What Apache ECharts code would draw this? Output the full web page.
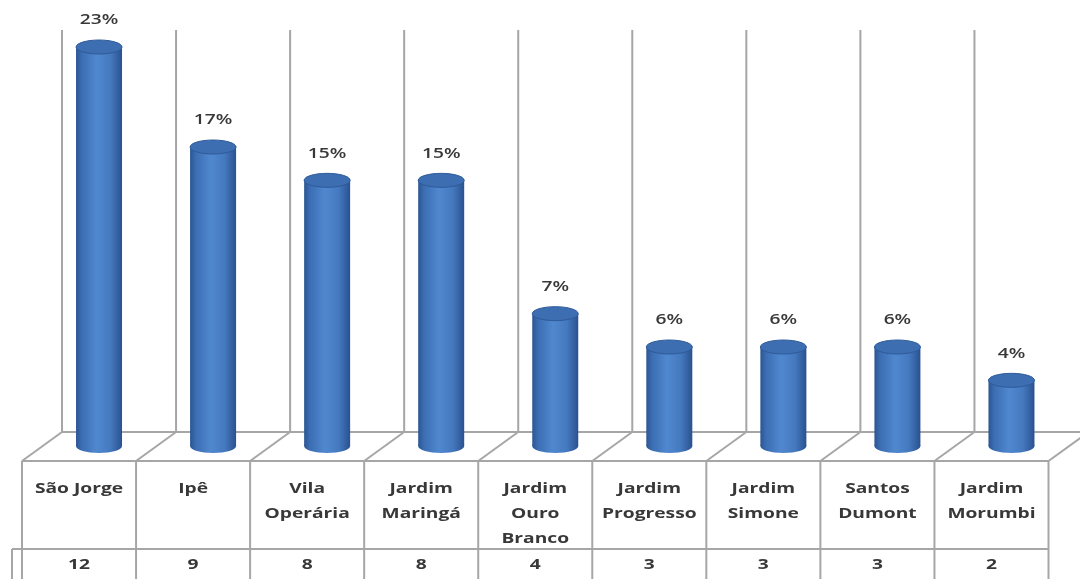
<!DOCTYPE html>
<html>
<head>
<meta charset="utf-8">
<script src="https://cdn.jsdelivr.net/npm/echarts@6/dist/echarts.min.js"></script>
<style>
html,body{margin:0;padding:0;background:#fff;}
#chart{width:1080px;height:579px;}
</style>
</head>
<body>
<div id="chart"></div>
<script>
// ---- data ----
const categories = ['São Jorge', 'Ipê', 'Vila\nOperária', 'Jardim\nMaringá', 'Jardim\nOuro\nBranco', 'Jardim\nProgresso', 'Jardim\nSimone', 'Santos\nDumont', 'Jardim\nMorumbi'];
const counts = [12, 9, 8, 8, 4, 3, 3, 3, 2];
const percents = [23, 17, 15, 15, 7, 6, 6, 6, 4];

// ---- style constants ----
const LINE = '#a6a6a6';
const TEXT = '#383838';
const FONT = 'Open Sans';
const STRETCH = 1.28;
const DEPTH_X = 20;   // perspective shift
const BACK_UP = 15;   // back floor above baseline
const FRONT_DOWN = 14; // front floor below baseline
const WALL_TOP = 30;
const ROW_SPLIT = 549;
const BOTTOM = 579;
const CYL_W = 46, CYL_RY = 7;

const chart = echarts.init(document.getElementById('chart'), null, {renderer: 'canvas'});

function label(text, x, y, opts) {
  return {type: 'text', x: x, y: y, scaleX: STRETCH, style: Object.assign({
    text: text, x: 0, y: 0, align: 'center', verticalAlign: 'middle',
    fontFamily: FONT, fontSize: 15, fill: TEXT
  }, opts || {})};
}

function frameItem(params, api) {
  const i = api.value(0);
  const p = api.coord([i, 0]);
  const band = api.size([1, 0])[0];
  const L = p[0] - band / 2, R = p[0] + band / 2;
  const yBack = p[1] - BACK_UP, yFront = p[1] + FRONT_DOWN;
  const ls = {stroke: LINE, lineWidth: 2};
  const line = (x1, y1, x2, y2) => ({type: 'line', shape: {x1, y1, x2, y2}, style: ls});
  const ch = [];
  ch.push(line(L + DEPTH_X, WALL_TOP, L + DEPTH_X, yBack));
  ch.push(line(L + DEPTH_X, yBack, R + DEPTH_X, yBack));
  ch.push(line(L + DEPTH_X, yBack, L - DEPTH_X, yFront));
  ch.push(line(L - DEPTH_X, yFront, R - DEPTH_X, yFront));
  ch.push(line(L - DEPTH_X, yFront, L - DEPTH_X, BOTTOM));
  ch.push(line(i === 0 ? L - DEPTH_X - 10 : L - DEPTH_X, ROW_SPLIT, R - DEPTH_X, ROW_SPLIT));
  if (i === 0) {
    ch.push(line(L - DEPTH_X - 10, ROW_SPLIT, L - DEPTH_X - 10, BOTTOM));
  }
  if (i === categories.length - 1) {
    ch.push(line(R - DEPTH_X, yFront, R - DEPTH_X, BOTTOM));
    ch.push(line(R - DEPTH_X, yFront, R + DEPTH_X, yBack));
  }
  ch.push(label(categories[i], p[0] - DEPTH_X, yFront + 15,
    {verticalAlign: 'top', lineHeight: 25, fontWeight: 'bold'}));
  ch.push(label(String(counts[i]), p[0] - DEPTH_X, (ROW_SPLIT + BOTTOM) / 2 + 1,
    {fontWeight: 'bold'}));
  return {type: 'group', children: ch};
}

function cylItem(params, api) {
  const i = api.value(0);
  const top = api.coord([i, api.value(1)]);
  const base = api.coord([i, 0]);
  const cx = top[0], rx = CYL_W / 2;
  const grad = new echarts.graphic.LinearGradient(0, 0, 1, 0, [
    {offset: 0, color: '#2b5592'},
    {offset: 0.12, color: '#3b6db2'},
    {offset: 0.45, color: '#5088cf'},
    {offset: 0.75, color: '#4579bf'},
    {offset: 1, color: '#2a5190'}
  ]);
  return {type: 'group', children: [
    {type: 'ellipse', shape: {cx, cy: base[1] - 1, rx, ry: CYL_RY}, style: {fill: grad}},
    {type: 'rect', shape: {x: cx - rx, y: top[1], width: CYL_W, height: base[1] - 1 - top[1]}, style: {fill: grad}},
    {type: 'ellipse', shape: {cx, cy: top[1], rx, ry: CYL_RY}, style: {fill: '#3d6eb1', stroke: '#2e5a98', lineWidth: 1}},
    label(api.value(2) + '%', cx, top[1] - 27, {fontWeight: 600})
  ]};
}

chart.setOption({
  animation: false,
  grid: {left: 42, right: 11.5, top: 47, bottom: 132},
  xAxis: {type: 'category', data: categories, show: false},
  yAxis: {type: 'value', min: 0, max: 12, show: false},
  series: [
    {type: 'custom', z: 1, renderItem: frameItem, data: categories.map((c, i) => [i, 0]), clip: false},
    {type: 'custom', z: 2, renderItem: cylItem, data: counts.map((v, i) => [i, v, percents[i]]), clip: false}
  ]
});
</script>
</body>
</html>
